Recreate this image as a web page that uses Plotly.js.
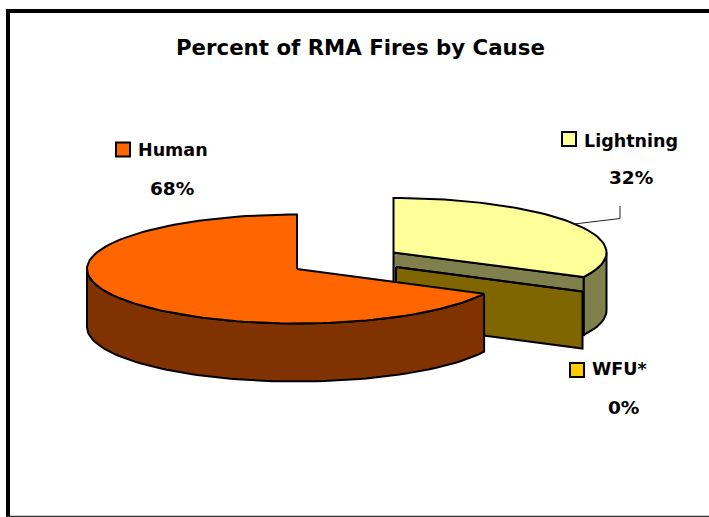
<!DOCTYPE html>
<html><head><meta charset="utf-8">
<script src="https://cdn.plot.ly/plotly-3.0.1.min.js"></script>
<style>html,body{margin:0;padding:0;background:#fff}#c{width:709px;height:517px}</style>
</head><body><div id="c"></div>
<script>
const categories = ["Lightning", "WFU*", "Human"];
const values = [32.45, 0.05, 67.5];
const percentLabels = ["32%", "0%", "68%"];
const topColors = ["#FFFF99", "#FFCC00", "#FF6600"];
const sideColors = ["#80804D", "#806600", "#803300"];
const chartTitle = "Percent of RMA Fires by Cause";

// exploded-slice placement of the tilted pie, in picture units
const slices = [
  {cx: 393.5, cy: 252.5, rx: 213, ry: 54.5, depth: 58},
  {cx: 396, cy: 267, rx: 209, ry: 54.5, depth: 57},
  {cx: 297, cy: 269, rx: 210, ry: 54.5, depth: 58}
];
const keyPlaces = [{x: 569, y: 139}, {x: 577, y: 370}, {x: 123, y: 149.5}];
const namePlaces = [{x: 582, y: 141}, {x: 590, y: 369}, {x: 136, y: 150}];
const pctPlaces = [{x: 631, y: 177}, {x: 623, y: 407}, {x: 172, y: 188}];

const FONT = "DejaVu Sans";
const rad = d => d * Math.PI / 180;
function pt(s, deg, dy) {
  return [s.cx + s.rx * Math.sin(rad(deg)), s.cy - s.ry * Math.cos(rad(deg)) + (dy || 0)];
}
function arc(s, a, b, dy) {
  const out = [], n = Math.max(2, Math.ceil(Math.abs(b - a) / 2));
  for (let i = 0; i <= n; i++) out.push(pt(s, a + (b - a) * i / n, dy));
  return out;
}
function poly(points, fill, name) {
  const closed = points.concat([points[0]]);
  return {type: "scatter", mode: "lines", x: closed.map(p => p[0]), y: closed.map(p => p[1]),
    fill: "toself", fillcolor: fill, line: {color: "#000", width: 2}, hoverinfo: "skip",
    showlegend: false, name: name};
}

// angles clockwise from 12 o'clock
let acc = 0;
const spans = values.map(v => { const a = acc * 3.6; acc += v; return [a, acc * 3.6]; });

const traces = [];
// 0 Lightning: outer rim, top, cut wall
{
  const s = slices[0], [a, b] = spans[0];
  traces.push(poly(arc(s, 90, b).concat(arc(s, b, 90, s.depth)), sideColors[0], categories[0]));
  const e = pt(s, b);
  traces.push(poly([[s.cx, s.cy], [s.cx, s.cy + s.depth], [e[0], e[1] + s.depth], e], sideColors[0], categories[0]));
  traces.push(poly([[s.cx, s.cy]].concat(arc(s, a, b)), topColors[0], categories[0]));
}
// 1 WFU: near-zero wedge, only its cut wall shows
{
  const s = slices[1], [a, b] = spans[1];
  const e = pt(s, a);
  traces.push(poly([[s.cx, s.cy], [s.cx, s.cy + s.depth], [e[0], e[1] + s.depth], e], sideColors[1], categories[1]));
  traces.push(poly([[s.cx, s.cy]].concat(arc(s, a, b)), topColors[1], categories[1]));
}
// 2 Human: rim then top
{
  const s = slices[2], [a, b] = spans[2];
  traces.push(poly(arc(s, a, 270).concat(arc(s, 270, a, s.depth)), sideColors[2], categories[2]));
  traces.push(poly([[s.cx, s.cy]].concat(arc(s, a, b)), topColors[2], categories[2]));
}
// legend keys
traces.push({type: "scatter", mode: "markers", x: keyPlaces.map(k => k.x), y: keyPlaces.map(k => k.y),
  marker: {symbol: "square", size: 14, color: topColors, line: {color: "#000", width: 2}},
  hoverinfo: "skip", showlegend: false});

const annotations = [];
function label(text, x, y, anchor, size) {
  annotations.push({text: "<b>" + text + "</b>", x: x, y: y, xref: "x", yref: "y", xanchor: anchor, yanchor: "middle",
    showarrow: false, font: {family: FONT, size: size, color: "#000"}});
}
label(chartTitle, 360, 47, "center", 21.3);
categories.forEach((c, i) => {
  label(c, namePlaces[i].x, namePlaces[i].y, "left", 17.5);
  label(percentLabels[i], pctPlaces[i].x, pctPlaces[i].y, "center", 18.5);
});

const frame = {type: "line", xref: "x", yref: "y", line: {color: "#000", width: 4}};
const layout = {
  width: 709, height: 517, margin: {l: 0, r: 0, t: 0, b: 0},
  paper_bgcolor: "#fff", plot_bgcolor: "#fff", showlegend: false,
  xaxis: {range: [0, 709], visible: false, fixedrange: true},
  yaxis: {range: [517, 0], visible: false, fixedrange: true},
  annotations: annotations,
  shapes: [
    Object.assign({}, frame, {x0: 8, x1: 8, y0: 9, y1: 517}),
    Object.assign({}, frame, {x0: 6, x1: 709, y0: 11, y1: 11}),
    Object.assign({}, frame, {x0: 6, x1: 709, y0: 516.5, y1: 516.5, line: {color: "#333", width: 1.5}}),
    {type: "path", xref: "x", yref: "y", path: "M 574 224 L 620 218.5 L 620 206", line: {color: "#222", width: 1}}
  ]
};
Plotly.newPlot("c", traces, layout, {staticPlot: true, displayModeBar: false});
</script></body></html>
